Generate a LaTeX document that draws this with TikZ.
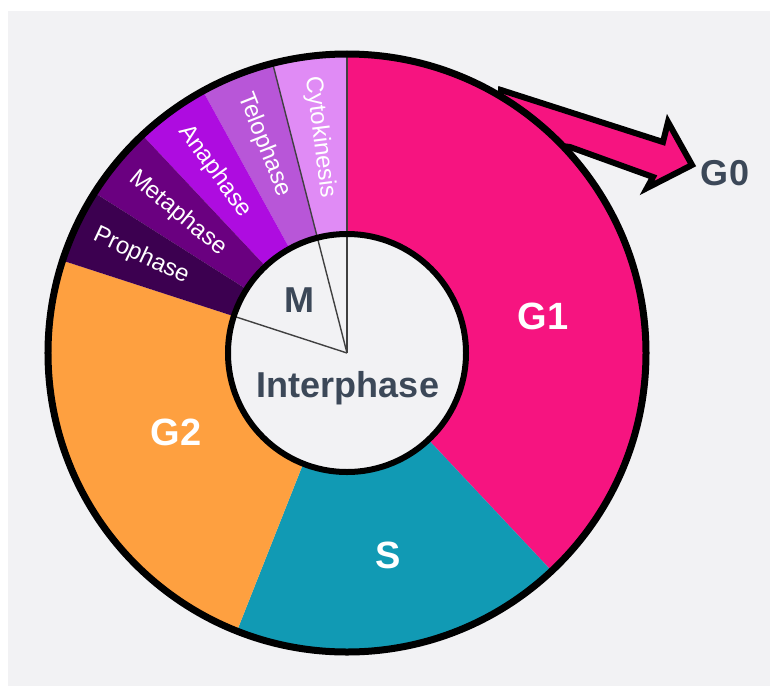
\documentclass[tikz,border=0pt]{standalone}
\usepackage{fontspec}
\setmainfont{Liberation Sans}
\definecolor{bgray}{RGB}{242,242,244}
\definecolor{gone}{RGB}{246,20,128}
\definecolor{sphase}{RGB}{17,154,180}
\definecolor{gtwo}{RGB}{254,160,64}
\definecolor{proph}{RGB}{60,0,80}
\definecolor{metaph}{RGB}{106,0,128}
\definecolor{anaph}{RGB}{174,12,224}
\definecolor{teloph}{RGB}{184,86,216}
\definecolor{cytok}{RGB}{224,139,245}
\definecolor{slate}{RGB}{60,72,88}
\tikzset{
  big label/.style={font=\fontsize{38}{40}\selectfont\bfseries, text=white, anchor=base, inner sep=0pt},
  dark label/.style={font=\fontsize{36}{38}\selectfont\bfseries, text=slate, anchor=base, inner sep=0pt},
  phase label/.style={font=\fontsize{24}{26}\selectfont, text=white, anchor=west, inner sep=0pt},
  divider/.style={draw=black!75, line width=1.4pt},
}
\begin{document}
\begin{tikzpicture}[x=1pt, y=1pt]
    % background, margins included
    \useasboundingbox (-347,-333) rectangle (423,353);
    \fill[bgray] (-339,-333) rectangle (423,342);
    % arrow out to G0, under the ring
    \draw[line width=6pt, fill=gone, line join=miter] (150,215) -- (154,263) -- (316,211) -- (321,231)
        -- (345,188) -- (300,165) -- (306,176) -- (223,206) -- cycle;
    % interphase slices
    \fill[gone] (0,0) -- (90:299) arc (90:-46.8:299) -- cycle;
    \fill[sphase] (0,0) -- (-46.8:299) arc (-46.8:-111.6:299) -- cycle;
    \fill[gtwo] (0,0) -- (-111.6:299) arc (-111.6:-198:299) -- cycle;
    % mitosis slices, 4% each
    \foreach \col [count=\i] in {cytok, teloph, anaph, metaph, proph} {
        \pgfmathsetmacro{\aa}{90+14.4*(\i-1)}
        \pgfmathsetmacro{\ab}{90+14.4*\i}
        \fill[\col] (0,0) -- (\aa:299) arc (\aa:\ab:299) -- cycle;
    }
    \foreach \name [count=\i] in {Cytokinesis, Telophase, Anaphase, Metaphase, Prophase} {
        \pgfmathsetmacro{\am}{90+14.4*(\i-0.5)}
        \node[phase label, rotate=\am-180] (ph\i) at (\am:279) {\name};
    }
    % inner pie
    \fill[bgray] (0,0) circle (119);
    \draw[divider] (0,0) -- (90:299);
    \draw[divider] (0,0) -- (104.4:299);
    \draw[divider] (0,0) -- (162:119);
    \draw[line width=6pt] (0,0) circle (119);
    \draw[line width=7pt] (0,0) circle (299);
    % labels
    \node[big label] (g1) at (196,24) {G1};
    \node[big label] (s) at (41,-215) {S};
    \node[big label] (g2) at (-171,-92) {G2};
    \node[dark label] (m) at (-48,41) {M};
    \node[dark label] (inter) at (1,-44) {Interphase};
    \node[dark label] (g0) at (378,168) {G0};
\end{tikzpicture}
\end{document}
